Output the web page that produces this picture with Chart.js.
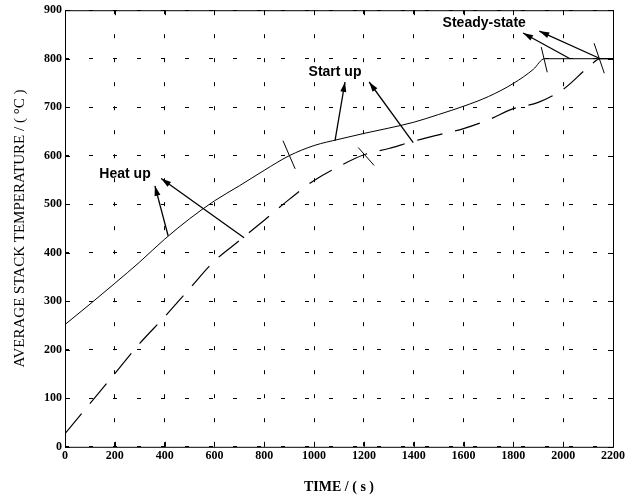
<!DOCTYPE html>
<html>
<head>
<meta charset="utf-8">
<script src="https://cdn.jsdelivr.net/npm/chart.js@4.4.1/dist/chart.umd.min.js"></script>
<style>
  html, body { margin: 0; padding: 0; background: #fff; }
  #wrap { width: 635px; height: 496px; }
</style>
</head>
<body>
<div id="wrap"><canvas id="chart" width="635" height="496"></canvas></div>
<script>
// time (s) and temperature (°C)
const solidTime = [0, 100, 200, 300, 400, 500, 600, 700, 800, 900, 1000, 1100, 1200, 1300, 1400, 1500, 1600, 1700, 1800, 1880, 1925, 2200];
const solidTemp = [252, 294, 337, 381, 428, 470, 507, 538, 570, 600, 621, 634, 646, 657, 669, 685, 702, 722, 749, 778, 800, 800];
const dashTime = [0, 100, 200, 300, 400, 500, 600, 700, 800, 900, 1000, 1100, 1200, 1300, 1400, 1500, 1600, 1700, 1800, 1900, 2000, 2100, 2150, 2200];
const dashTemp = [27, 89, 151, 213, 268, 326, 383, 425, 467, 510, 549, 578, 602, 615, 630, 643, 656, 674, 697, 710, 737, 782, 800, 800];

const xTicks = [0, 200, 400, 600, 800, 1000, 1200, 1400, 1600, 1800, 2000, 2200];
const yTicks = [0, 100, 200, 300, 400, 500, 600, 700, 800, 900];

// labels and arrows in data units: [x, y]
const labels = [
    { text: 'Heat up', at: [241, 563] },
    { text: 'Start up', at: [1084, 772] },
    { text: 'Steady-state', at: [1683, 874] }
];
const arrows = [
    [[414, 435], [361, 538]],
    [[719, 431], [386, 553]],
    [[1084, 631], [1124, 752]],
    [[1398, 627], [1221, 752]],
    [[2024, 801], [1839, 853]],
    [[2145, 801], [1904, 857]]
];
const crossMarks = [
    [[875, 631], [924, 573]],
    [[1177, 617], [1241, 580]],
    [[1912, 824], [1936, 772]],
    [[2124, 832], [2165, 770]]
];

const toPoints = (xs, ys) => xs.map((x, i) => ({ x: x, y: ys[i] }));

const notes = {
    id: 'notes',
    afterDraw(chart) {
        const ctx = chart.ctx, xs = chart.scales.x, ys = chart.scales.y;
        const a = chart.chartArea;
        const px = p => [xs.getPixelForValue(p[0]), ys.getPixelForValue(p[1])];
        ctx.save();
        ctx.strokeStyle = '#000';
        ctx.fillStyle = '#000';
        ctx.lineWidth = 1;
        ctx.setLineDash([]);
        // frame
        ctx.strokeRect(a.left + 0.5, a.top + 0.5, a.right - a.left, a.bottom - a.top);
        // inward ticks
        xTicks.forEach(t => {
            const x = Math.round(xs.getPixelForValue(t)) + 0.5;
            ctx.beginPath();
            ctx.moveTo(x, a.bottom); ctx.lineTo(x, a.bottom - 5);
            ctx.moveTo(x, a.top); ctx.lineTo(x, a.top + 5);
            ctx.stroke();
        });
        yTicks.forEach(t => {
            const y = Math.round(ys.getPixelForValue(t)) + 0.5;
            ctx.beginPath();
            ctx.moveTo(a.left, y); ctx.lineTo(a.left + 5, y);
            ctx.moveTo(a.right, y); ctx.lineTo(a.right - 5, y);
            ctx.stroke();
        });
        // little cross strokes on the curves
        crossMarks.forEach(m => {
            const p1 = px(m[0]), p2 = px(m[1]);
            ctx.beginPath();
            ctx.moveTo(p1[0], p1[1]); ctx.lineTo(p2[0], p2[1]);
            ctx.stroke();
        });
        // arrows
        ctx.lineWidth = 1.3;
        arrows.forEach(m => {
            const p1 = px(m[0]), p2 = px(m[1]);
            const ang = Math.atan2(p2[1] - p1[1], p2[0] - p1[0]);
            ctx.beginPath();
            ctx.moveTo(p1[0], p1[1]); ctx.lineTo(p2[0], p2[1]);
            ctx.stroke();
            const len = 10, w = 3;
            ctx.beginPath();
            ctx.moveTo(p2[0], p2[1]);
            ctx.lineTo(p2[0] - len * Math.cos(ang) + w * Math.sin(ang), p2[1] - len * Math.sin(ang) - w * Math.cos(ang));
            ctx.lineTo(p2[0] - len * Math.cos(ang) - w * Math.sin(ang), p2[1] - len * Math.sin(ang) + w * Math.cos(ang));
            ctx.closePath();
            ctx.fill();
        });
        // labels
        ctx.font = 'bold 14px "Liberation Sans", Arial, sans-serif';
        ctx.textAlign = 'center';
        ctx.textBaseline = 'middle';
        labels.forEach(l => {
            const p = px(l.at);
            ctx.fillText(l.text, p[0], p[1]);
        });
        ctx.restore();
    }
};

new Chart(document.getElementById('chart'), {
    type: 'line',
    data: {
        datasets: [{
            data: toPoints(solidTime, solidTemp),
            borderColor: '#000',
            borderWidth: 1,
            pointRadius: 0,
            cubicInterpolationMode: 'monotone',
            fill: false
        }, {
            data: toPoints(dashTime, dashTemp),
            borderColor: '#000',
            borderWidth: 1.2,
            borderDash: [26, 13],
            pointRadius: 0,
            cubicInterpolationMode: 'monotone',
            fill: false
        }]
    },
    options: {
        responsive: false,
        animation: false,
        layout: { padding: { top: 4, right: 22, left: 11, bottom: 0 } },
        plugins: {
            legend: { display: false },
            tooltip: { enabled: false }
        },
        scales: {
            x: {
                type: 'linear',
                min: 0,
                max: 2200,
                afterBuildTicks: axis => { axis.ticks = xTicks.map(v => ({ value: v })); },
                ticks: {
                    color: '#000',
                    font: { family: '"Liberation Serif", serif', size: 12, weight: 'bold' },
                    padding: 2,
                    callback: v => String(v)
                },
                grid: { color: '#000', lineWidth: 1, tickLength: 0, drawTicks: false },
                border: { display: false, dash: [4, 20] },
                title: {
                    display: true,
                    text: 'TIME / ( s )',
                    color: '#000',
                    font: { family: '"Liberation Serif", serif', size: 14, weight: 'bold' },
                    padding: { top: 14, bottom: 0 }
                }
            },
            y: {
                min: 0,
                max: 900,
                afterBuildTicks: axis => { axis.ticks = yTicks.map(v => ({ value: v })); },
                ticks: {
                    color: '#000',
                    font: { family: '"Liberation Serif", serif', size: 12, weight: 'bold' },
                    padding: 3,
                    callback: v => String(v)
                },
                grid: { color: '#000', lineWidth: 1, tickLength: 0, drawTicks: false },
                border: { display: false, dash: [4, 20] },
                title: {
                    display: true,
                    text: 'AVERAGE STACK TEMPERATURE / ( °C )',
                    color: '#000',
                    font: { family: '"Liberation Serif", serif', size: 15 },
                    padding: { top: 0, bottom: 12 }
                }
            }
        }
    },
    plugins: [notes]
});
</script>
</body>
</html>
